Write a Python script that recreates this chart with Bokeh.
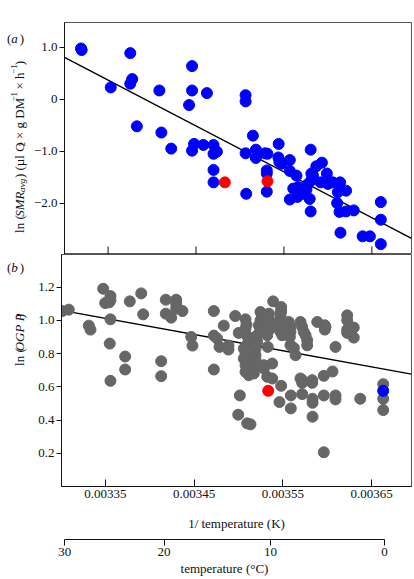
import math
from bokeh.plotting import figure
from bokeh.layouts import column, row
from bokeh.models import FixedTicker, PrintfTickFormatter, Range1d
from bokeh.core.properties import value
from bokeh.embed import file_html
from bokeh.resources import INLINE

FONT = "Liberation Serif"

# ---------------- data: panel (a) ln(SMR_avg) ----------------
smr_blue_x = [0.0033192, 0.0033199, 0.0033530, 0.0033752, 0.0033774, 0.0033752, 0.0033827,
              0.0034083, 0.0034106, 0.0034218, 0.0034455, 0.0034455, 0.0034421, 0.0034478,
              0.0034455, 0.0034583, 0.0034624, 0.0035064, 0.0035064, 0.0035147, 0.0034699,
              0.0034699, 0.0034737, 0.0034699, 0.0034699, 0.0035064, 0.0035071, 0.0035181,
              0.0035181, 0.0035286, 0.0035313, 0.0035305, 0.0035305, 0.0035305, 0.0035440,
              0.0035437, 0.0035448, 0.0035474, 0.0035567, 0.0035567, 0.0035643, 0.0035606,
              0.0035662, 0.0035567, 0.0035654, 0.0035804, 0.0035868, 0.0035932, 0.0035812,
              0.0035831, 0.0035988, 0.0035917, 0.0036000, 0.0036057, 0.0036139, 0.0035775,
              0.0035812, 0.0035756, 0.0035718, 0.0035793, 0.0036113, 0.0036207, 0.0036105,
              0.0035804, 0.0036132, 0.0036207, 0.0036294, 0.0036143, 0.0036395, 0.0036478,
              0.0036602, 0.0036602, 0.0036602]
smr_blue_y = [0.98, 0.95, 0.23, 0.89, 0.39, 0.30, -0.52,
              0.17, -0.64, -0.95, 0.64, 0.17, -0.11, -0.86,
              -0.99, -0.88, 0.12, 0.08, -0.04, -0.70, -0.88,
              -1.05, -1.01, -1.36, -1.60, -1.04, -1.82, -0.97,
              -1.13, -1.04, -1.05, -1.37, -1.43, -1.78, -0.86,
              -1.12, -1.21, -1.24, -1.17, -1.38, -1.47, -1.72,
              -1.69, -1.93, -1.88, -0.97, -1.29, -1.22, -1.43,
              -1.47, -1.43, -1.60, -1.63, -1.60, -1.60, -1.63,
              -1.56, -1.74, -1.82, -1.92, -1.79, -1.76, -2.00,
              -2.16, -2.17, -2.16, -2.14, -2.57, -2.64, -2.64,
              -1.98, -2.32, -2.79]
smr_red_x = [0.0034828, 0.0035313]
smr_red_y = [-1.60, -1.58]
smr_fit_x = [0.0033004, 0.0036951]
smr_fit_y = [0.81, -2.68]

# ---------------- data: panel (b) ln(OGP P) ----------------
ogp_gray_x = [0.0033012, 0.0033086, 0.0033312, 0.0033331, 0.0033474, 0.0033497, 0.0033556,
              0.0033556, 0.0033542, 0.0033556, 0.0033548, 0.0033556, 0.0033722, 0.0033722,
              0.0033774, 0.0033903, 0.0033925, 0.0034128, 0.0034128, 0.0034180, 0.0034180,
              0.0034241, 0.0034297, 0.0034297, 0.0034297, 0.0034368, 0.0034467, 0.0034481,
              0.0034722, 0.0034963, 0.0034834, 0.0034722, 0.0034760, 0.0034786, 0.0034887,
              0.0034887, 0.0034722, 0.0035015, 0.0034997, 0.0035098, 0.0035135, 0.0035481,
              0.0035462, 0.0035590, 0.0035590, 0.0035718, 0.0035718, 0.0035831, 0.0035831,
              0.0035962, 0.0036060, 0.0035718, 0.0035835, 0.0035835, 0.0035962, 0.0036094,
              0.0036094, 0.0036373, 0.0035835, 0.0035962, 0.0035391, 0.0035481, 0.0035481,
              0.0035888, 0.0035973, 0.0035973, 0.0036094, 0.0036226, 0.0036226, 0.0036226,
              0.0036226, 0.0036300, 0.0036300, 0.0036632, 0.0036632, 0.0036632, 0.0035474,
              0.0035474, 0.0035248, 0.0035267, 0.0035248, 0.0035229, 0.0035248, 0.0035342,
              0.0035342, 0.0035361, 0.0035361, 0.0035454, 0.0035454, 0.0035474, 0.0035493,
              0.0035530, 0.0035567, 0.0035586, 0.0035586, 0.0035579, 0.0035699, 0.0035718,
              0.0035736, 0.0035756, 0.0035775, 0.0035775, 0.0035079, 0.0035090, 0.0035079,
              0.0035003, 0.0035098, 0.0035116, 0.0035098, 0.0035211, 0.0035211, 0.0035324,
              0.0035330, 0.0035060, 0.0035079, 0.0035060, 0.0035098, 0.0035079, 0.0035192,
              0.0035192, 0.0035192, 0.0035173, 0.0035079, 0.0035116, 0.0035173, 0.0035286,
              0.0035286, 0.0035380, 0.0035324, 0.0035380, 0.0035586, 0.0035624, 0.0035643,
              0.0035699, 0.0035981]
ogp_gray_y = [1.056, 1.064, 0.968, 0.944, 1.19, 1.104, 1.146,
              1.12, 1.108, 1.006, 0.86, 0.636, 0.782, 0.704,
              1.114, 1.162, 1.036, 0.754, 0.664, 1.124, 1.04,
              1.016, 1.124, 1.10, 1.07, 1.056, 0.90, 0.848,
              1.056, 1.026, 0.968, 0.908, 0.89, 0.84, 0.848,
              0.824, 0.704, 0.548, 0.432, 0.38, 0.374, 0.606,
              0.508, 0.548, 0.47, 0.64, 0.624, 0.64, 0.624,
              0.666, 0.692, 0.556, 0.528, 0.504, 0.548, 0.548,
              0.524, 0.528, 0.42, 0.206, 1.114, 1.08, 1.056,
              0.99, 0.97, 0.944, 0.84, 1.03, 1.0, 0.944,
              0.924, 0.956, 0.896, 0.616, 0.528, 0.46, 1.046,
              1.03, 1.05, 1.026, 1.0, 0.97, 0.95, 1.04,
              1.01, 0.974, 0.95, 0.99, 0.96, 0.93, 0.91,
              0.95, 0.99, 0.96, 0.93, 0.90, 0.99, 0.96,
              0.93, 0.91, 0.88, 0.85, 1.006, 0.974, 0.95,
              0.924, 0.906, 0.89, 0.854, 0.91, 0.87, 0.91,
              0.84, 0.83, 0.80, 0.77, 0.75, 0.73, 0.83,
              0.79, 0.76, 0.72, 0.69, 0.67, 0.68, 0.71,
              0.73, 0.74, 0.66, 0.65, 0.85, 0.834, 0.79,
              0.65, 0.96]
ogp_red_x = [0.0035335]
ogp_red_y = [0.576]
ogp_blue_x = [0.0036632]
ogp_blue_y = [0.576]
ogp_fit_x = [0.0033004, 0.0036951]
ogp_fit_y = [1.06, 0.676]

# ---------------- ticks ----------------
x_ticks = [0.00335, 0.00345, 0.00355, 0.00365]
smr_ticks = [-2, -1, 0, 1]
smr_tick_labels = ["\u22122.0", "\u22121.0", "0", "1.0"]
ogp_ticks = [0.2, 0.4, 0.6, 0.8, 1.0, 1.2]
temp_ticks_c = [30, 20, 10, 0]

BLUE = "#0000ff"
RED = "#ff0000"
GRAY = "#666666"
INK = "#111111"

LAB_W = 30          # strip holding the rotated y labels and panel letters
LEFT = 31
RIGHT = 3
FRAME_W = 350
MAIN_W = LEFT + FRAME_W + RIGHT
FRAME_H = 232
A_TOP = 22
A_H = FRAME_H + A_TOP
B_BOT = 49
B_H = FRAME_H + B_BOT
C_H = 43
C_RIGHT = 27        # the °C axis is shorter than the panels

SMR_RANGE = (-2.99, 1.48)
OGP_RANGE = (0.0, 1.396)
X_RANGE = (0.0033004, 0.0036951)
TEMP_AXIS_RANGE = (0.00329496, 0.0036644)

NB = "\u00a0"  # non-breaking space (plain spaces at text ends are dropped in SVG)

# Times / Liberation Serif advance widths (per 1000 em)
REG = {NB: 250, " ": 250, "(": 333, ")": 333, "l": 278, "n": 500, "\u00b5": 500, "O": 722,
       "\u00d7": 564, "g": 500, "D": 722, "M": 889, "h": 500, "\u2212": 564,
       "1": 500, "2": 500}
ITA = {"S": 500, "M": 833, "R": 611, "a": 500, "v": 444, "g": 500, "O": 722,
       "G": 722, "P": 611, NB: 250, " ": 250, "b": 500}
ITALIC_GAP = 2.0   # small italic correction after a slanted run


def text_w(s, italic, size):
    tab = ITA if italic else REG
    w = sum(tab.get(c, 500) for c in s) * size / 1000.0
    return w + (ITALIC_GAP if italic else 0.0)


def rich(p, pieces, x0, y0, size, vertical):
    """Draw a run of text pieces (normal / italic / sub / superscript)."""
    pos = y0 if vertical else x0
    for txt, italic, scale, shift in pieces:
        fs = size * scale
        if vertical:
            lx, ly, ang = x0 + shift, pos, math.pi / 2
        else:
            lx, ly, ang = pos, y0 - shift, 0.0
        p.text(x=[lx], y=[ly], text=[txt], angle=ang,
               text_font=value(FONT), text_font_size=value(f"{fs:.1f}px"),
               text_font_style=value("italic" if italic else "normal"),
               text_align=value("left"), text_baseline=value("alphabetic"),
               text_color=INK)
        pos += text_w(txt, italic, fs)


def label_strip(height):
    s = figure(width=LAB_W, height=height, x_range=Range1d(0, LAB_W),
               y_range=Range1d(0, height), x_axis_location=None, y_axis_location=None,
               output_backend="svg", toolbar_location=None, min_border=0)
    s.grid.visible = False
    s.outline_line_color = None
    return s


def style_panel(p):
    p.grid.visible = False
    p.outline_line_color = "#555555"
    p.outline_line_width = 1
    ax = p.yaxis[0]
    ax.major_tick_out = 5
    ax.major_tick_in = 0
    ax.minor_tick_out = 0
    ax.minor_tick_in = 0
    ax.axis_line_color = INK
    ax.major_tick_line_color = INK
    ax.major_label_text_font = FONT
    ax.major_label_text_font_size = "13px"
    ax.major_label_text_color = INK
    ax.major_label_standoff = 2


xr = Range1d(*X_RANGE)

# ---------------- panel (a) ----------------
pa = figure(width=MAIN_W, height=A_H, x_range=xr, y_range=Range1d(*SMR_RANGE),
            x_axis_location=None, output_backend="svg", toolbar_location=None,
            min_border_left=LEFT, min_border_right=RIGHT, min_border_top=A_TOP,
            min_border_bottom=0)
style_panel(pa)
pa.yaxis.ticker = FixedTicker(ticks=smr_ticks)
pa.yaxis.major_label_overrides = dict(zip(smr_ticks, smr_tick_labels))
# inward tick marks on the shared x axis (8 px tall)
tick_len = 8 * (SMR_RANGE[1] - SMR_RANGE[0]) / FRAME_H
pa.segment(x0=x_ticks, y0=[SMR_RANGE[0]] * len(x_ticks), x1=x_ticks,
           y1=[SMR_RANGE[0] + tick_len] * len(x_ticks), line_color=INK, line_width=1)

pa.line(smr_fit_x, smr_fit_y, line_color="black", line_width=1.4)
pa.scatter(smr_blue_x, smr_blue_y, size=11, fill_color=BLUE, line_color=BLUE)
pa.scatter(smr_red_x, smr_red_y, size=11, fill_color=RED, line_color=RED)

la = label_strip(A_H)
rich(la, [("(", False, 1, 0), ("a", True, 1, 0), (")", False, 1, 0)], 6.5, A_H - 17, 13, False)
smr_label = [("ln" + NB + "(", False, 1, 0), ("SMR", True, 1, 0), ("avg", True, 0.7, 3),
             (")" + NB + "(\u00b5l" + NB + "O", False, 1, 0), ("2", False, 0.7, 3),
             (NB + "\u00d7" + NB + "g" + NB + "DM", False, 1, 0), ("\u22121", False, 0.7, -5),
             (NB + "\u00d7" + NB + "h", False, 1, 0), ("\u22121", False, 0.7, -5),
             (")", False, 1, 0)]
smr_len = sum(text_w(t, i, 13 * s) for t, i, s, _ in smr_label)
rich(la, smr_label, 18.5, FRAME_H * 0.5065 - smr_len / 2, 13, True)

# ---------------- panel (b) ----------------
pb = figure(width=MAIN_W, height=B_H, x_range=xr, y_range=Range1d(*OGP_RANGE),
            output_backend="svg", toolbar_location=None,
            min_border_left=LEFT, min_border_right=RIGHT, min_border_top=0,
            min_border_bottom=B_BOT)
style_panel(pb)
pb.yaxis.ticker = FixedTicker(ticks=ogp_ticks)
pb.yaxis.formatter = PrintfTickFormatter(format="%.1f")
xa = pb.xaxis[0]
xa.ticker = FixedTicker(ticks=x_ticks)
xa.formatter = PrintfTickFormatter(format="%.5f")
xa.major_tick_in = 7
xa.major_tick_out = 0
xa.minor_tick_in = 0
xa.minor_tick_out = 0
xa.major_label_standoff = 3
xa.major_label_text_font = FONT
xa.major_label_text_font_size = "13px"
xa.major_label_text_color = INK
xa.axis_line_color = INK
xa.major_tick_line_color = INK
xa.axis_label = "1/ temperature (K)"
xa.axis_label_text_font = FONT
xa.axis_label_text_font_size = "13px"
xa.axis_label_text_font_style = "normal"
xa.axis_label_text_color = INK
xa.axis_label_standoff = 15

pb.line(ogp_fit_x, ogp_fit_y, line_color="black", line_width=1.4)
pb.scatter(ogp_gray_x, ogp_gray_y, size=11, fill_color=GRAY, line_color=GRAY)
pb.scatter(ogp_red_x, ogp_red_y, size=11, fill_color=RED, line_color=RED)
pb.scatter(ogp_blue_x, ogp_blue_y, size=11, fill_color=BLUE, line_color=BLUE)

lb = label_strip(B_H)
rich(lb, [("(", False, 1, 0), ("b", True, 1, 0), (")", False, 1, 0)], 6.5, B_H - 16, 13, False)
ogp_label = [("ln" + NB + "(", False, 1, 0), ("OGP" + NB + "P", True, 1, 0), (")", False, 1, 0)]
ogp_len = sum(text_w(t, i, 13 * s) for t, i, s, _ in ogp_label)
rich(lb, ogp_label, 18.5, B_H - 104 - ogp_len / 2, 13, True)

# ---------------- temperature (°C) axis ----------------
temp_inv = [1.0 / (t + 273.15) for t in temp_ticks_c]
pc = figure(width=LAB_W + MAIN_W, height=C_H, x_range=Range1d(*TEMP_AXIS_RANGE),
            y_range=Range1d(0, 1), y_axis_location=None,
            output_backend="svg", toolbar_location=None,
            min_border_left=LAB_W + LEFT, min_border_right=C_RIGHT, min_border_top=3,
            min_border_bottom=C_H - 4)
pc.grid.visible = False
pc.outline_line_color = None
tc = pc.xaxis[0]
tc.ticker = FixedTicker(ticks=temp_inv)
tc.major_label_overrides = {v: str(t) for v, t in zip(temp_inv, temp_ticks_c)}
tc.bounds = (min(temp_inv), max(temp_inv))
tc.major_tick_out = 6
tc.major_tick_in = 0
tc.minor_tick_in = 0
tc.minor_tick_out = 0
tc.major_label_standoff = 2
tc.major_label_text_font = FONT
tc.major_label_text_font_size = "13px"
tc.major_label_text_color = INK
tc.axis_line_color = INK
tc.major_tick_line_color = INK
tc.axis_label = "temperature (\u00b0C)"
tc.axis_label_text_font = FONT
tc.axis_label_text_font_size = "13px"
tc.axis_label_text_font_style = "normal"
tc.axis_label_text_color = INK
tc.axis_label_standoff = 2

layout = column(row(la, pa, spacing=0), row(lb, pb, spacing=0), pc, spacing=0)
open("out.html", "w").write(file_html(layout, INLINE))
